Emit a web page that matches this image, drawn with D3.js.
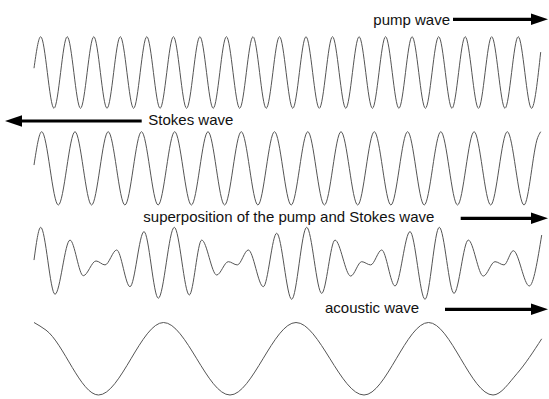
<!DOCTYPE html>
<html>
<head>
<meta charset="utf-8">
<script src="https://cdn.jsdelivr.net/npm/d3@7"></script>
<style>
  html, body { margin: 0; padding: 0; background: #fff; }
  svg { display: block; }
</style>
</head>
<body>
<svg id="chart" width="549" height="399"></svg>
<script>
// ---- Data: extrema (position, normalized amplitude) ----
const pumpWave = [
  [0,0.12],
  [6.7,1],[20.0,-1],[33.2,1],[46.5,-1],[59.8,1],[73.0,-1],[86.3,1],[99.6,-1],
  [112.8,1],[126.1,-1],[139.4,1],[152.6,-1],[165.9,1],[179.2,-1],[192.4,1],[205.7,-1],
  [219.0,1],[232.2,-1],[245.5,1],[258.8,-1],[272.0,1],[285.3,-1],[298.5,1],[311.8,-1],
  [325.1,1],[338.4,-1],[351.6,1],[364.9,-1],[378.1,1],[391.4,-1],[404.7,1],[418.0,-1],
  [431.2,1],[444.5,-1],[457.7,1],[471.0,-1],[484.2,1],[497.5,-1],
  [506.7,0.57]
];

const stokesWave = [
  [0,0.09],
  [7.7,1],[24.3,-1],[41.0,1],[57.6,-1],[74.2,1],[90.9,-1],[107.5,1],[124.1,-1],
  [140.7,1],[157.4,-1],[174.0,1],[190.6,-1],[207.3,1],[223.9,-1],[240.5,1],[257.2,-1],
  [273.8,1],[290.4,-1],[307.0,1],[323.7,-1],[340.3,1],[356.9,-1],[373.6,1],[390.2,-1],
  [406.8,1],[423.5,-1],[440.1,1],[456.7,-1],[473.3,1],[490.0,-1],
  [503.7,0.84],[506.7,1]
];

const superpositionWave = [
  [0,0.18],
  [6.7,2.0],[21.0,-1.72],[36.0,1.29],[49.3,-0.69],[62.0,0.13],[71.0,-0.09],[82.7,0.74],[96.0,-1.30],
  [110.0,1.76],[124.3,-1.94],[140.3,2.0],[155.3,-1.76],[167.7,1.29],[182.7,-0.65],[194.3,0.09],[203.3,-0.09],
  [214.3,0.74],[229.3,-1.30],[242.7,1.67],[257.7,-2.0],[272.7,2.0],[287.7,-1.67],[301.0,1.29],[316.7,-0.71],
  [327.7,0.09],[336.7,-0.09],[347.7,0.74],[361.0,-1.26],[376.0,1.76],[391.0,-2.0],[405.3,2.0],[420.0,-1.67],
  [434.3,1.29],[449.3,-0.71],[461.0,0.09],[470.0,-0.09],[479.3,0.70],[495.3,-1.26],
  [507.7,1.57]
];

const acousticWave = [
  [0,1],[12,0.79],[64.5,-1],[129.5,1],[196,-1],[262,1],[330,-1],[394.5,1],[459,-1],[483,-0.41],[507.7,0.55]
];

const labels = ["pump wave", "Stokes wave", "superposition of the pump and Stokes wave", "acoustic wave"];

// ---- Layout ----
const svg = d3.select("#chart");
const x = d3.scaleLinear().domain([0, 507.7]).range([34, 541.7]);

const panels = [
  { data: pumpWave,          y: d3.scaleLinear().domain([-1, 1]).range([108.3, 36.7]) },
  { data: stokesWave,        y: d3.scaleLinear().domain([-1, 1]).range([205, 131.7]) },
  { data: superpositionWave, y: d3.scaleLinear().domain([-2, 2]).range([299.3, 227.3]) },
  { data: acousticWave,      y: d3.scaleLinear().domain([-1, 1]).range([395, 322.5]) }
];

panels.forEach(p => {
  const line = d3.line()
    .x(d => x(d[0]))
    .y(d => p.y(d[1]))
    .curve(d3.curveMonotoneX);
  svg.append("path")
    .attr("d", line(p.data))
    .attr("fill", "none")
    .attr("stroke", "#555")
    .attr("stroke-width", 1);
});

// ---- Labels and arrows ----
const annot = [
  { text: labels[0], tx: 373.3, ty: 24.5, ay: 19.3, from: 453,   to: 548 },
  { text: labels[1], tx: 148.3, ty: 125,  ay: 121,  from: 141.7, to: 5 },
  { text: labels[2], tx: 143.3, ty: 222,  ay: 218.3, from: 460.7, to: 548 },
  { text: labels[3], tx: 325,   ty: 313,  ay: 309.3, from: 445,   to: 548 }
];

const headLen = 17, headHalf = 5.8;
annot.forEach(a => {
  svg.append("text")
    .attr("x", a.tx).attr("y", a.ty)
    .attr("font-family", "Liberation Sans, Arial, Helvetica, sans-serif")
    .attr("font-size", 15)
    .attr("fill", "#111")
    .text(a.text);
  const dir = a.to > a.from ? 1 : -1;
  const base = a.to - dir * headLen;
  svg.append("line")
    .attr("x1", a.from).attr("y1", a.ay)
    .attr("x2", base + dir * 1).attr("y2", a.ay)
    .attr("stroke", "#000").attr("stroke-width", 3.2);
  svg.append("path")
    .attr("d", `M${a.to},${a.ay} L${base},${a.ay - headHalf} L${base},${a.ay + headHalf} Z`)
    .attr("fill", "#000");
});
</script>
</body>
</html>
